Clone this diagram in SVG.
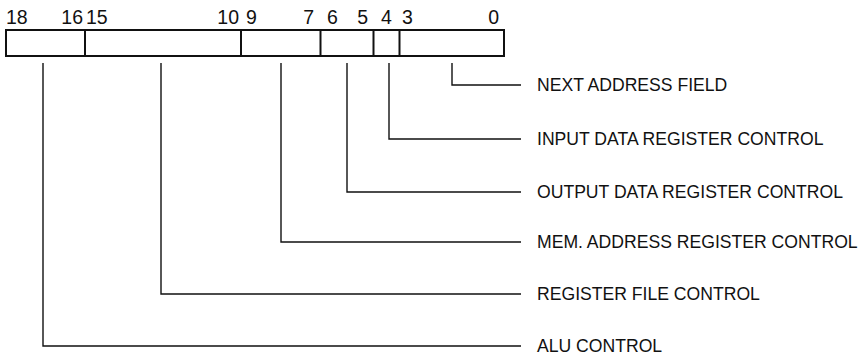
<svg xmlns="http://www.w3.org/2000/svg" width="864" height="355" viewBox="0 0 864 355">
<style>
.box{fill:none;stroke:#111;stroke-width:2}
.div{stroke:#111;stroke-width:2}
.ln{fill:none;stroke:#111;stroke-width:1.4}
.lbl{font-family:"Liberation Sans",Arial,sans-serif;font-size:17.6px;fill:#111}
.bit{font-family:"Liberation Sans",Arial,sans-serif;font-size:19.5px;fill:#111}
</style>
<rect width="864" height="355" fill="#fff"/>
<g id="register">
<rect class="box" x="6" y="30" width="498" height="26"/>
<line class="div" x1="85" y1="30" x2="85" y2="56"/>
<line class="div" x1="241" y1="30" x2="241" y2="56"/>
<line class="div" x1="320.5" y1="30" x2="320.5" y2="56"/>
<line class="div" x1="373.5" y1="30" x2="373.5" y2="56"/>
<line class="div" x1="399.5" y1="30" x2="399.5" y2="56"/>
</g>
<g id="bits">
<text class="bit" x="6" y="23.5">18</text>
<text class="bit" x="83" y="23.5" text-anchor="end">16</text>
<text class="bit" x="86" y="23.5">15</text>
<text class="bit" x="239" y="23.5" text-anchor="end">10</text>
<text class="bit" x="246" y="23.5">9</text>
<text class="bit" x="314" y="23.5" text-anchor="end">7</text>
<text class="bit" x="327" y="23.5">6</text>
<text class="bit" x="368" y="23.5" text-anchor="end">5</text>
<text class="bit" x="381" y="23.5">4</text>
<text class="bit" x="402" y="23.5">3</text>
<text class="bit" x="499" y="23.5" text-anchor="end">0</text>
</g>
<g id="connectors">
<polyline class="ln" points="452,63 452,85 521,85"/>
<polyline class="ln" points="389,63 389,139 521,139"/>
<polyline class="ln" points="347,63 347,192 521,192"/>
<polyline class="ln" points="281,63 281,242 521,242"/>
<polyline class="ln" points="161,63 161,294 521,294"/>
<polyline class="ln" points="43,63 43,346 521,346"/>
</g>
<g id="next-address"><text class="lbl" x="537" y="91">NEXT ADDRESS FIELD</text></g>
<g id="input-data"><text class="lbl" x="537" y="145">INPUT DATA REGISTER CONTROL</text></g>
<g id="output-data"><text class="lbl" x="537" y="198">OUTPUT DATA REGISTER CONTROL</text></g>
<g id="mem-address"><text class="lbl" x="537" y="248">MEM. ADDRESS REGISTER CONTROL</text></g>
<g id="register-file"><text class="lbl" x="537" y="300">REGISTER FILE CONTROL</text></g>
<g id="alu"><text class="lbl" x="537" y="352">ALU CONTROL</text></g>
</svg>
